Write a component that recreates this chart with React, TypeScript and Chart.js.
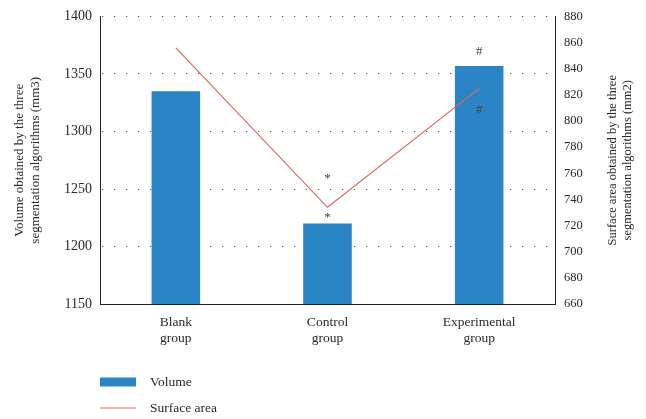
import React, { useEffect, useRef } from "react";
import { Chart, registerables } from "chart.js";

Chart.register(...registerables);

const categories: string[][] = [["Blank", "group"], ["Control", "group"], ["Experimental", "group"]];
const volumeValues: number[] = [1335, 1220, 1357];
const surfaceValues: number[] = [856, 734, 825];
const volumeTicks = { min: 1150, max: 1400, step: 50 };
const surfaceTicks = { min: 660, max: 880, step: 20 };
const leftTitle: string[] = ["Volume obtained by the three", "segmentation algorithms (mm3)"];
const rightTitle: string[] = ["Surface area obtained by the three", "segmentation algorithms (mm2)"];
// annotation marks: [categoryIndex, attachedTo, text]
const annotations: [number, string, string][] = [
  [1, "lineAbove", "*"],
  [1, "barAbove", "*"],
  [2, "barAbove", "#"],
  [2, "lineBelow", "#"],
];
const legendItems: string[] = ["Volume", "Surface area"];

const FONT = "'Liberation Serif', 'DejaVu Serif', serif";
const BAR_COLOR = "#2b84c6";
const LINE_COLOR = "#e06262";
const TEXT_COLOR = "#2a2a2a";

export default function App() {
  const ref = useRef<HTMLCanvasElement | null>(null);
  useEffect(() => {
    document.body.style.margin = "0";
    const ctx = ref.current!;
    const overlay = {
      id: "overlay",
      afterDatasetsDraw(chart: any) {
        const c = chart.ctx;
        const x = chart.scales.x;
        const y = chart.scales.y;
        const y1 = chart.scales.y1;
        c.save();
        c.fillStyle = "#444";
        c.textAlign = "center";
        c.textBaseline = "middle";
        c.font = `13px ${FONT}`;
        annotations.forEach(([i, kind, t]) => {
          const px = x.getPixelForValue(i);
          let py = 0;
          if (kind === "lineAbove") py = y1.getPixelForValue(surfaceValues[i]) - 29;
          if (kind === "lineBelow") py = y1.getPixelForValue(surfaceValues[i]) + 21;
          if (kind === "barAbove") py = y.getPixelForValue(volumeValues[i]) - (t === "*" ? 6 : 14);
          c.fillText(t, px, py);
        });
        c.restore();
      },
      afterDraw(chart: any) {
        const c = chart.ctx;
        const a = chart.chartArea;
        // right axis title (reads bottom-to-top)
        c.save();
        c.fillStyle = TEXT_COLOR;
        c.font = `12.5px ${FONT}`;
        c.textAlign = "center";
        c.textBaseline = "middle";
        c.translate(a.right + 58, (a.top + a.bottom) / 2);
        c.rotate(-Math.PI / 2);
        c.fillText(rightTitle[0], 0, 0);
        c.fillText(rightTitle[1], 0, 15);
        c.restore();
        // legend
        const lx = a.left;
        const y0 = a.bottom + 78;
        const y2 = a.bottom + 104;
        c.save();
        c.fillStyle = BAR_COLOR;
        c.fillRect(lx, y0 - 4.5, 36, 9);
        c.strokeStyle = LINE_COLOR;
        c.lineWidth = 1.2;
        c.beginPath();
        c.moveTo(lx, y2);
        c.lineTo(lx + 36, y2);
        c.stroke();
        c.fillStyle = TEXT_COLOR;
        c.font = `13.5px ${FONT}`;
        c.textAlign = "left";
        c.textBaseline = "middle";
        c.fillText(legendItems[0], lx + 50, y0);
        c.fillText(legendItems[1], lx + 50, y2);
        c.restore();
      },
    };
    const chart = new Chart(ctx, {
      type: "bar",
      data: {
        labels: categories as any,
        datasets: [
          {
            type: "line",
            label: legendItems[1],
            data: surfaceValues,
            yAxisID: "y1",
            borderColor: LINE_COLOR,
            borderWidth: 1.2,
            pointRadius: 0,
            tension: 0,
            order: 0,
          } as any,
          {
            type: "bar",
            label: legendItems[0],
            data: volumeValues,
            yAxisID: "y",
            backgroundColor: BAR_COLOR,
            barPercentage: 0.32,
            categoryPercentage: 1,
            order: 1,
          },
        ],
      },
      options: {
        animation: false,
        responsive: false,
        maintainAspectRatio: false,
        layout: { padding: { top: 7, bottom: 55, left: 0, right: 0 } },
        plugins: { legend: { display: false }, tooltip: { enabled: false } },
        scales: {
          x: {
            grid: { display: false, drawTicks: false },
            border: { color: "#222", width: 1 },
            ticks: { color: TEXT_COLOR, font: { family: FONT, size: 13.5 }, padding: 10 },
            afterFit: (s: any) => { s.height = 60; },
          },
          y: {
            position: "left",
            min: volumeTicks.min,
            max: volumeTicks.max,
            ticks: {
              stepSize: volumeTicks.step,
              color: TEXT_COLOR,
              font: { family: FONT, size: 14 },
              padding: 8,
              callback: (v: any) => String(v),
            },
            grid: { color: "#555", lineWidth: 1, drawTicks: false },
            border: { color: "#222", width: 1, dash: [1.2, 10.8], dashOffset: -1 },
            title: {
              display: true,
              text: leftTitle,
              color: TEXT_COLOR,
              font: { family: FONT, size: 13 },
              padding: { top: 12, bottom: 0 },
            },
            afterFit: (s: any) => { s.width = 100; },
          },
          y1: {
            position: "right",
            min: surfaceTicks.min,
            max: surfaceTicks.max,
            ticks: {
              stepSize: surfaceTicks.step,
              color: TEXT_COLOR,
              font: { family: FONT, size: 12.5 },
              padding: 9,
              callback: (v: any) => String(v),
            },
            grid: { display: false, drawTicks: false },
            border: { color: "#222", width: 1 },
            title: { display: false },
            afterFit: (s: any) => { s.width = 91; },
          },
        },
      } as any,
      plugins: [overlay],
    });
    return () => chart.destroy();
  }, []);
  return (
    <div style={{ width: 646, height: 419 }}>
      <canvas ref={ref} width={646} height={419} style={{ width: 646, height: 419, display: "block" }} />
    </div>
  );
}
